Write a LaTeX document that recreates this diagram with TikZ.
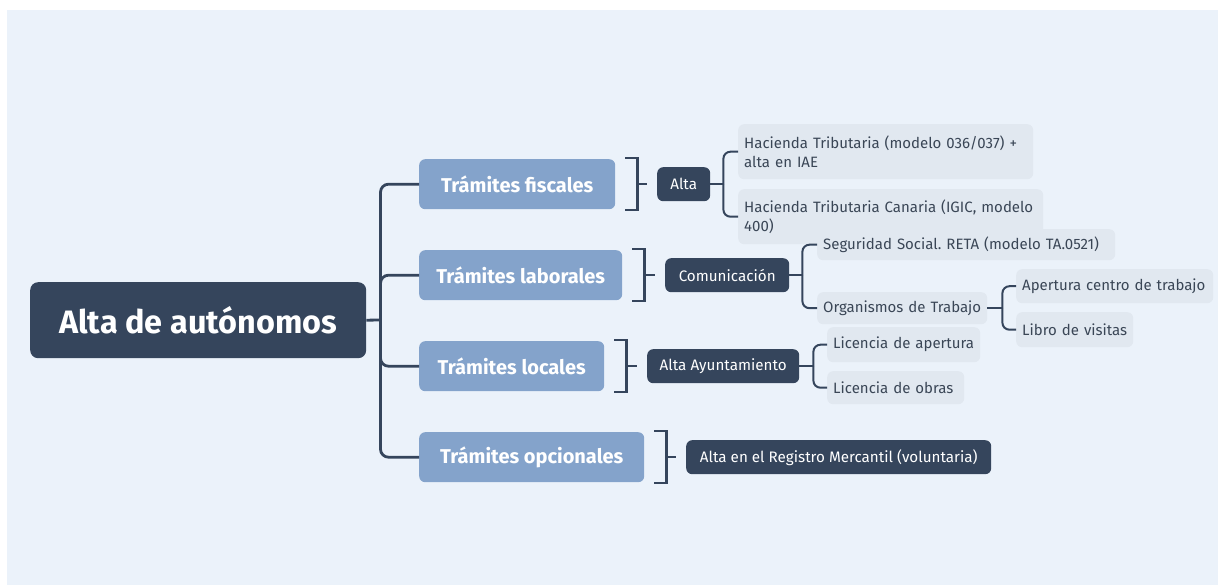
\documentclass[tikz,border=0pt]{standalone}
\usepackage{fontspec}
\setmainfont{Fira Sans}
\usetikzlibrary{calc}
\definecolor{bg}{HTML}{EBF2FA}
\definecolor{navy}{HTML}{35455C}
\definecolor{steel}{HTML}{84A3CB}
\definecolor{leafbg}{HTML}{E1E8F0}
\definecolor{leaftx}{HTML}{3A4656}
\frenchspacing
\begin{document}
\begin{tikzpicture}[x=1pt,y=-1pt,
 base/.style={draw=none, rounded corners=6, inner sep=0pt, anchor=north west},
 rootbox/.style={base, fill=navy, text=white, font=\bfseries\fontsize{32.4}{38}\selectfont, rounded corners=8},
 topic/.style={base, fill=steel, text=white, font=\bfseries\fontsize{20}{24}\selectfont, minimum height=50pt},
 sub/.style={base, fill=navy, text=white, font=\fontsize{15.2}{18}\selectfont, minimum height=34pt},
 leaf/.style={base, fill=leafbg, text=leaftx, font=\fontsize{15}{18.5}\selectfont, align=left, inner xsep=6pt},
 conn/.style={draw=navy, line width=2.8pt},
 thinconn/.style={draw=navy, line width=2pt, rounded corners=7},
 bracket/.style={draw=navy, line width=2.2pt}
]
\useasboundingbox (0,0) rectangle (1218,585);
\fill[white] (0,0) rectangle (1218,585);
\fill[bg] (7,10) rectangle (1218,585);

% root and topics
\node[rootbox, minimum width=336pt, minimum height=76pt] (root) at (30,282) {Alta de autónomos};
\node[topic, minimum width=196pt] (fis) at (419,159) {Trámites fiscales};
\node[topic, minimum width=203pt] (lab) at (419,250) {Trámites laborales};
\node[topic, minimum width=185pt] (loc) at (419,341) {Trámites locales};
\node[topic, minimum width=225pt] (opc) at (419,432) {Trámites opcionales};

% sub topics
\node[sub, minimum width=53pt] (alta) at (657,167) {Alta};
\node[sub, minimum width=124pt] (com) at (665,258) {Comunicación};
\node[sub, minimum width=152pt] (ayu) at (647,349) {Alta Ayuntamiento};
\node[sub, minimum width=305pt] (reg) at (686,440) {Alta en el Registro Mercantil (voluntaria)};

% leaves
\node[leaf, minimum width=295pt, minimum height=55pt, text width=283pt] (h1) at (738,124) {\mbox{Hacienda Tributaria (modelo 036/037) +}\\\mbox{alta en IAE}};
\node[leaf, minimum width=305pt, minimum height=55pt, text width=293pt] (h2) at (738,189) {\mbox{Hacienda Tributaria Canaria (IGIC, modelo}\\\mbox{400)}};
\node[leaf, minimum width=298pt, minimum height=31pt, text width=286pt] (ss) at (817,229) {\mbox{Seguridad Social. RETA (modelo TA.0521)}};
\node[leaf, minimum width=170pt, minimum height=32pt, text width=158pt] (org) at (817,292) {\mbox{Organismos de Trabajo}};
\node[leaf, minimum width=197pt, minimum height=34pt, text width=185pt] (ape) at (1016,269) {\mbox{Apertura centro de trabajo}};
\node[leaf, minimum width=117pt, minimum height=35pt, text width=105pt] (lib) at (1016,312) {\mbox{Libro de visitas}};
\node[leaf, minimum width=153pt, minimum height=35pt, text width=141pt] (lia) at (827,327) {\mbox{Licencia de apertura}};
\node[leaf, minimum width=137pt, minimum height=33pt, text width=125pt] (lio) at (827,371) {\mbox{Licencia de obras}};

% root connectors
\coordinate (sp) at (380.5,320);
\draw[conn] (root.east) -- (sp);
\foreach \t in {fis,lab,loc,opc}{
  \draw[conn, rounded corners=8] (sp) |- (\t.west);
}

% brackets
\foreach \t/\c in {fis/alta,lab/com,loc/ayu,opc/reg}{
  \draw[bracket] ($(\t.east)+(10,-26)$) -- ++(12,0) -- ++(0,52) -- ++(-12,0);
  \draw[bracket] ($(\t.east)+(22,0)$) -- ($(\c.west)+(-10,0)$);
}

% sub connectors
\draw[thinconn] (alta.east) -- ++(13,0) coordinate (ja);
\draw[thinconn] (ja) |- (h1.west);
\draw[thinconn] (ja) |- (h2.west);
\draw[thinconn] (com.east) -- ++(13,0) coordinate (jc);
\draw[thinconn] (jc) |- (ss.west);
\draw[thinconn] (jc) |- (org.west);
\draw[thinconn] (ayu.east) -- ++(14,0) coordinate (jy);
\draw[thinconn] (jy) |- (lia.west);
\draw[thinconn] (jy) |- (lio.west);
\draw[thinconn] (org.east) -- ++(15,0) coordinate (jo);
\draw[thinconn] (jo) |- (ape.west);
\draw[thinconn] (jo) |- (lib.west);
\end{tikzpicture}
\end{document}
